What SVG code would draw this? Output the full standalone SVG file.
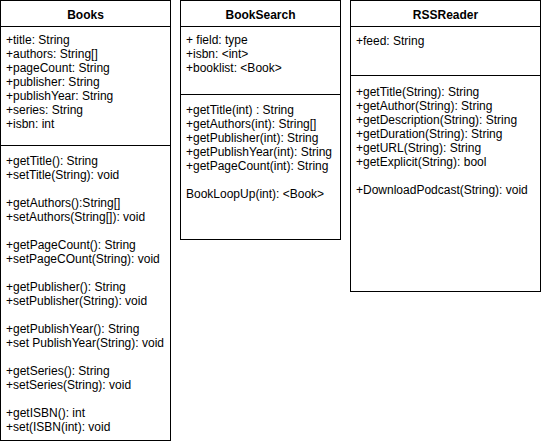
<svg xmlns="http://www.w3.org/2000/svg" width="541" height="444" viewBox="0 0 541 444">
<style>
.box{fill:#fff;stroke:#000;stroke-width:1}
.ln{stroke:#000;stroke-width:1;fill:none}
text{font-family:"Liberation Sans",Arial,Helvetica,sans-serif;font-size:12px;fill:#000}
.t{font-weight:bold;text-anchor:middle}
</style>
<rect width="541" height="444" fill="#fff"/>
<g id="Books">
<rect class="box" x="0.5" y="0.5" width="170" height="440"/>
<line class="ln" x1="0.5" y1="26.5" x2="170.5" y2="26.5"/>
<line class="ln" x1="0.5" y1="145.5" x2="170.5" y2="145.5"/>
<text class="t" x="85.5" y="19">Books</text>
<text x="6" y="44">+title: String</text>
<text x="6" y="58">+authors: String[]</text>
<text x="6" y="72">+pageCount: String</text>
<text x="6" y="86">+publisher: String</text>
<text x="6" y="100">+publishYear: String</text>
<text x="6" y="114">+series: String</text>
<text x="6" y="128">+isbn: int</text>
<text x="6" y="165">+getTitle(): String</text>
<text x="6" y="179">+setTitle(String): void</text>
<text x="6" y="207">+getAuthors():String[]</text>
<text x="6" y="221">+setAuthors(String[]): void</text>
<text x="6" y="249">+getPageCount(): String</text>
<text x="6" y="263">+setPageCOunt(String): void</text>
<text x="6" y="291">+getPublisher(): String</text>
<text x="6" y="305">+setPublisher(String): void</text>
<text x="6" y="333">+getPublishYear(): String</text>
<text x="6" y="347">+set PublishYear(String): void</text>
<text x="6" y="375">+getSeries(): String</text>
<text x="6" y="389">+setSeries(String): void</text>
<text x="6" y="417">+getISBN(): int</text>
<text x="6" y="431">+set(ISBN(int): void</text>
</g>
<g id="BookSearch">
<rect class="box" x="180.5" y="0.5" width="160" height="239"/>
<line class="ln" x1="180.5" y1="26.5" x2="340.5" y2="26.5"/>
<line class="ln" x1="180.5" y1="94.5" x2="340.5" y2="94.5"/>
<text class="t" x="260.5" y="19">BookSearch</text>
<text x="186" y="44">+ field: type</text>
<text x="186" y="58">+isbn: &lt;int&gt;</text>
<text x="186" y="72">+booklist: &lt;Book&gt;</text>
<text x="186" y="114">+getTitle(int) : String</text>
<text x="186" y="128">+getAuthors(int): String[]</text>
<text x="186" y="142">+getPublisher(int): String</text>
<text x="186" y="156">+getPublishYear(int): String</text>
<text x="186" y="170">+getPageCount(int): String</text>
<text x="186" y="198">BookLoopUp(int): &lt;Book&gt;</text>
</g>
<g id="RSSReader">
<rect class="box" x="350.5" y="0.5" width="190" height="291"/>
<line class="ln" x1="350.5" y1="26.5" x2="540.5" y2="26.5"/>
<line class="ln" x1="350.5" y1="75.5" x2="540.5" y2="75.5"/>
<text class="t" x="445.5" y="19">RSSReader</text>
<text x="356" y="45">+feed: String</text>
<text x="356" y="96">+getTitle(String): String</text>
<text x="356" y="110">+getAuthor(String): String</text>
<text x="356" y="124">+getDescription(String): String</text>
<text x="356" y="138">+getDuration(String): String</text>
<text x="356" y="152">+getURL(String): String</text>
<text x="356" y="166">+getExplicit(String): bool</text>
<text x="356" y="194">+DownloadPodcast(String): void</text>
</g>
<g id="connectors"></g>
</svg>
